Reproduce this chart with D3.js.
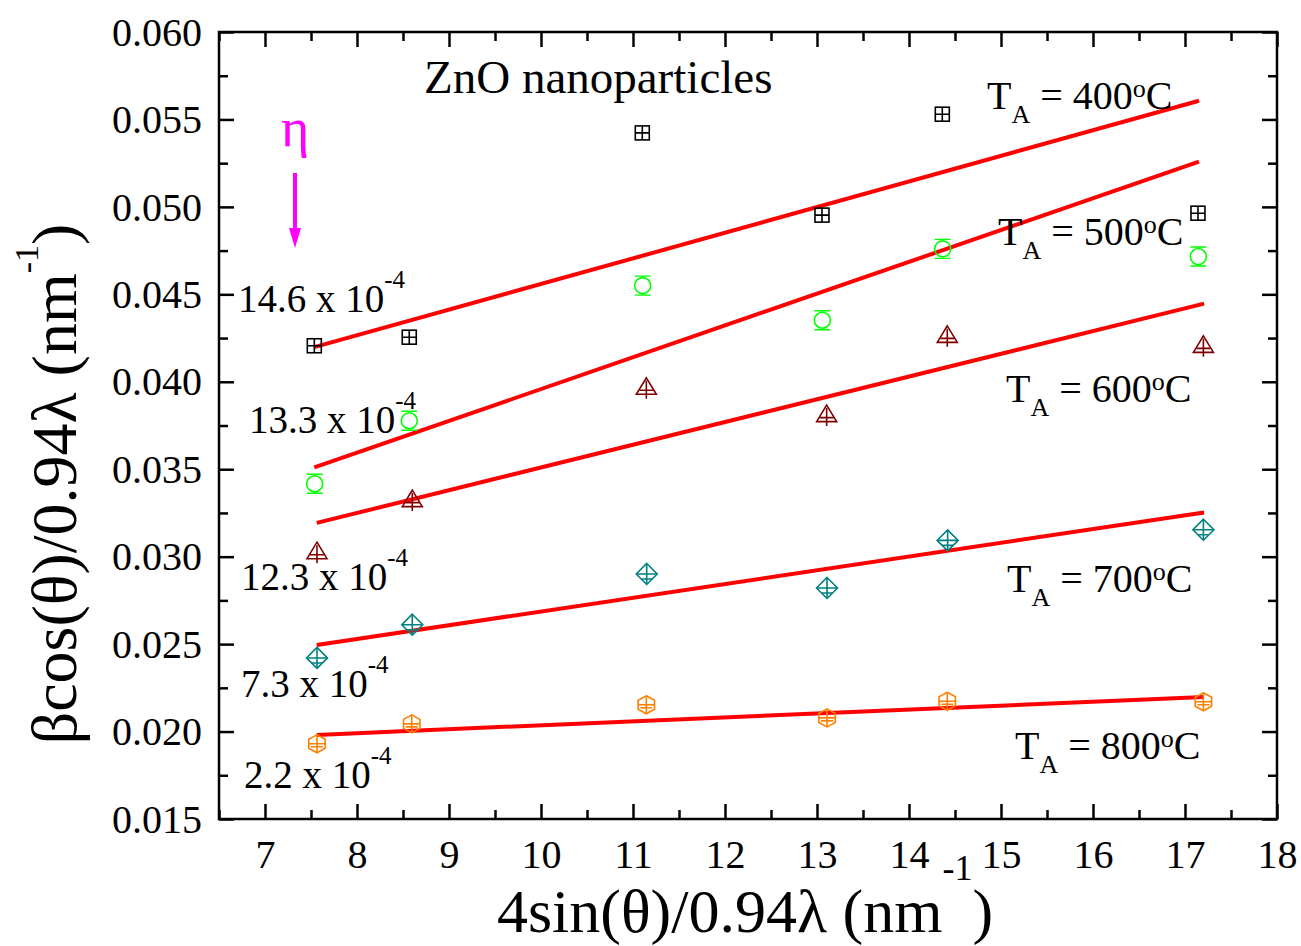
<!DOCTYPE html>
<html>
<head>
<meta charset="utf-8">
<script src="https://cdn.jsdelivr.net/npm/d3@7"></script>
<style>
  body { margin: 0; background: #fff; }
  svg { display: block; }
  svg text, svg tspan { font-family: "Liberation Serif", "Times New Roman", serif; }
</style>
</head>
<body>
<svg id="chart" width="1301" height="946"></svg>
<script>
// ---- data ----
const xMajorTicks = [7, 8, 9, 10, 11, 12, 13, 14, 15, 16, 17, 18];
const xMinorTicks = [6.5, 7.5, 8.5, 9.5, 10.5, 11.5, 12.5, 13.5, 14.5, 15.5, 16.5, 17.5];
const yMajorTicks = [0.015, 0.020, 0.025, 0.030, 0.035, 0.040, 0.045, 0.050, 0.055, 0.060];
const yMinorTicks = [0.0175, 0.0225, 0.0275, 0.0325, 0.0375, 0.0425, 0.0475, 0.0525, 0.0575];

const annealTemps = ["400", "500", "600", "700", "800"];

// 4sin(θ)/0.94λ per annealing temperature
const x400 = [7.536, 8.568, 11.101, 13.054, 14.362, 17.141];
const x500 = [7.540, 8.568, 11.105, 13.058, 14.366, 17.145];
const x600 = [7.565, 8.601, 11.145, 13.105, 14.416, 17.200];
const x700 = [7.565, 8.601, 11.149, 13.109, 14.420, 17.200];
const x800 = [7.565, 8.595, 11.145, 13.109, 14.416, 17.200];

// βcos(θ)/0.94λ per annealing temperature
const y400 = [0.04206, 0.04255, 0.05423, 0.04953, 0.05530, 0.04964];
const y500 = [0.03417, 0.03777, 0.04550, 0.04352, 0.04760, 0.04716];
const y600 = [0.03037, 0.03335, 0.03977, 0.03821, 0.04274, 0.04217];
const y700 = [0.02421, 0.02611, 0.02901, 0.02821, 0.03093, 0.03154];
const y800 = [0.01930, 0.02044, 0.02153, 0.02078, 0.02173, 0.02170];

// linear fits (start / end points)
const fitX0 = [7.536, 7.536, 7.562, 7.562, 7.562];
const fitX1 = [17.152, 17.152, 17.207, 17.207, 17.207];
const fitY0 = [0.04198, 0.03510, 0.03193, 0.02495, 0.01981];
const fitY1 = [0.05607, 0.05259, 0.04447, 0.03253, 0.02198];

// micro-strain values written beside the fits
const strainLabels = ["14.6", "13.3", "12.3", "7.3", "2.2"];

// ---- layout ----
const SERIF = '"Liberation Serif", "Times New Roman", serif';
const plot = { left: 219, right: 1277, top: 32, bottom: 819 };

const svg = d3.select("#chart").attr("font-family", SERIF);
const x = d3.scaleLinear().domain([6.5, 18]).range([plot.left, plot.right]);
const y = d3.scaleLinear().domain([0.015, 0.060]).range([plot.bottom, plot.top]);

const series = [
  { xs: x400, ys: y400, symbol: "square",   color: "#000000" },
  { xs: x500, ys: y500, symbol: "circle",   color: "#00ff00" },
  { xs: x600, ys: y600, symbol: "triangle", color: "#800000" },
  { xs: x700, ys: y700, symbol: "diamond",  color: "#008080" },
  { xs: x800, ys: y800, symbol: "hexagon",  color: "#ff8000" }
];

// ---- axes (ticks pointing inward on all four sides) ----
const majorLen = 15, minorLen = 9;
function styleAxis(g) {
  g.attr("font-family", SERIF).attr("font-size", 40);
  g.select(".domain").remove();
  g.selectAll(".tick line").attr("stroke", "#000").attr("stroke-width", 2.5);
  g.selectAll(".tick text").attr("fill", "#000");
}

svg.append("g").attr("transform", `translate(0,${plot.bottom})`)
  .call(d3.axisBottom(x).tickValues(xMajorTicks).tickSize(-majorLen).tickPadding(0).tickFormat(d3.format("d")))
  .call(styleAxis)
  .call(g => g.selectAll(".tick text").attr("y", 49).attr("dy", null));
svg.append("g").attr("transform", `translate(0,${plot.bottom})`)
  .call(d3.axisBottom(x).tickValues(xMinorTicks).tickSize(-minorLen).tickFormat(""))
  .call(styleAxis);
svg.append("g").attr("transform", `translate(0,${plot.top})`)
  .call(d3.axisTop(x).tickValues(xMajorTicks).tickSize(-majorLen).tickFormat(""))
  .call(styleAxis);
svg.append("g").attr("transform", `translate(0,${plot.top})`)
  .call(d3.axisTop(x).tickValues(xMinorTicks).tickSize(-minorLen).tickFormat(""))
  .call(styleAxis);

svg.append("g").attr("transform", `translate(${plot.left},0)`)
  .call(d3.axisLeft(y).tickValues(yMajorTicks).tickSize(-majorLen).tickPadding(0).tickFormat(d3.format(".3f")))
  .call(styleAxis)
  .call(g => g.selectAll(".tick text").attr("x", -17).attr("dy", "0.33em"));
svg.append("g").attr("transform", `translate(${plot.left},0)`)
  .call(d3.axisLeft(y).tickValues(yMinorTicks).tickSize(-minorLen).tickFormat(""))
  .call(styleAxis);
svg.append("g").attr("transform", `translate(${plot.right},0)`)
  .call(d3.axisRight(y).tickValues(yMajorTicks).tickSize(-majorLen).tickFormat(""))
  .call(styleAxis);
svg.append("g").attr("transform", `translate(${plot.right},0)`)
  .call(d3.axisRight(y).tickValues(yMinorTicks).tickSize(-minorLen).tickFormat(""))
  .call(styleAxis);

// frame
svg.append("rect")
  .attr("x", plot.left).attr("y", plot.top)
  .attr("width", plot.right - plot.left).attr("height", plot.bottom - plot.top)
  .attr("fill", "none").attr("stroke", "#000").attr("stroke-width", 2.5);

// ---- fit lines ----
const fits = svg.append("g");
annealTemps.forEach((t, i) => {
  fits.append("line")
    .attr("x1", x(fitX0[i])).attr("y1", y(fitY0[i]))
    .attr("x2", x(fitX1[i])).attr("y2", y(fitY1[i]))
    .attr("stroke", "#ff0000").attr("stroke-width", 4);
});

// ---- markers (symbol with its small error bar) ----
function drawGlyph(g, symbol, color) {
  const s = { fill: "none", stroke: color, "stroke-width": 1.6 };
  const add = (tag, attrs) => {
    const el = g.append(tag);
    Object.entries(Object.assign({}, s, attrs)).forEach(([k, v]) => el.attr(k, v));
  };
  if (symbol === "square") {
    add("rect", { x: -7, y: -7, width: 14, height: 14 });
    add("path", { d: "M-7,0H7M0,-7V7" });
  } else if (symbol === "circle") {
    add("circle", { r: 8 });
    add("path", { d: "M-8,-9.5H8M-8,9.5H8M0,-9.5V-8M0,8V9.5", "stroke-width": 1.4 });
  } else if (symbol === "triangle") {
    add("path", { d: "M0,-8L10,8.5L-10,8.5Z" });
    add("path", { d: "M-7,4.5H7M0,-5V13" });
  } else if (symbol === "diamond") {
    add("path", { d: "M0,-10.5L10.5,0L0,10.5L-10.5,0Z" });
    add("path", { d: "M-10.5,0H10.5M0,-10V10M-5.5,5H5.5" });
  } else if (symbol === "hexagon") {
    add("path", { d: "M0,-9L8.2,-4.5L8.2,4.5L0,9L-8.2,4.5L-8.2,-4.5Z" });
    add("path", { d: "M-8.2,0H8.2M0,-9V9M-6,3H6" });
  }
}

series.forEach(sr => {
  const pts = sr.xs.map((v, i) => [v, sr.ys[i]]);
  svg.append("g").selectAll("g").data(pts).join("g")
    .attr("transform", d => `translate(${x(d[0])},${y(d[1])})`)
    .each(function () { drawGlyph(d3.select(this), sr.symbol, sr.color); });
});

// ---- annotations ----
svg.append("text").attr("x", 424).attr("y", 93)
  .attr("font-size", 47).text("ZnO nanoparticles");

// annealing temperature labels
const tempPos = [[987, 109], [998, 245], [1006, 402], [1007, 592], [1015, 759]];
annealTemps.forEach((t, i) => {
  const tx = svg.append("text").attr("x", tempPos[i][0]).attr("y", tempPos[i][1])
    .attr("font-size", 40);
  tx.append("tspan").text("T");
  tx.append("tspan").attr("dy", 14).attr("font-size", 26).text("A");
  tx.append("tspan").attr("dy", -14).text(" = " + t);
  tx.append("tspan").attr("dy", -12).attr("font-size", 26).text("o");
  tx.append("tspan").attr("dy", 12).text("C");
});

// strain labels
const strainPos = [[238, 312], [249, 433], [241, 590], [241, 697], [244, 788]];
strainLabels.forEach((s, i) => {
  const tx = svg.append("text").attr("x", strainPos[i][0]).attr("y", strainPos[i][1])
    .attr("font-size", 39);
  tx.append("tspan").text(s + " x 10");
  tx.append("tspan").attr("dy", -24).attr("font-size", 25).text("-4");
});

// η marker with arrow
svg.append("text").attr("x", 295).attr("y", 146).attr("text-anchor", "middle")
  .attr("font-size", 54).attr("fill", "#ff00ff").text("η");
svg.append("line").attr("x1", 295).attr("y1", 173).attr("x2", 295).attr("y2", 232)
  .attr("stroke", "#ff00ff").attr("stroke-width", 4);
svg.append("path").attr("d", "M289,228L301,228L295,248Z").attr("fill", "#ff00ff");

// ---- axis titles ----
const xt = svg.append("text").attr("x", 745).attr("y", 932).attr("text-anchor", "middle")
  .attr("font-size", 62);
xt.append("tspan").text("4sin(θ)/0.94λ (nm");
xt.append("tspan").attr("dy", -52).attr("font-size", 36).text("-1");
xt.append("tspan").attr("dy", 52).text(")");

const yt = svg.append("text").attr("transform", "translate(76,484) rotate(-90)")
  .attr("text-anchor", "middle").attr("font-size", 64);
yt.append("tspan").text("βcos(θ)/0.94λ (nm");
yt.append("tspan").attr("dy", -38).attr("font-size", 34).text("-1");
yt.append("tspan").attr("dy", 38).text(")");
</script>
</body>
</html>
